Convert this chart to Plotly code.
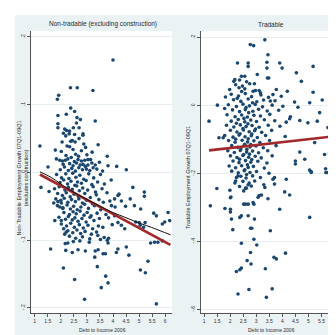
import plotly.graph_objects as go

# ---------------- data: Non-tradable panel (Debt to Income 2006, employment growth) ----------------
nt_points = [
    (4.00, 0.166), (2.37, 0.125), (2.63, 0.125), (3.23, 0.121), (1.92, 0.114), (1.87, 0.108), (2.38, 0.095),
    (2.53, 0.090), (1.89, 0.084), (2.21, 0.086), (2.62, 0.081), (2.75, 0.078), (3.32, 0.076), (1.89, 0.072),
    (1.89, 0.066), (2.60, 0.073), (2.15, 0.064), (2.22, 0.062), (2.33, 0.061), (2.32, 0.057), (2.85, 0.057),
    (2.85, 0.055), (2.53, 0.056), (2.19, 0.054), (2.38, 0.046), (2.44, 0.047), (2.24, 0.039), (2.34, 0.038),
    (2.88, 0.042), (3.43, 0.041), (1.20, 0.039), (1.79, 0.033), (2.02, 0.031), (2.47, 0.034), (2.57, 0.027),
    (2.79, 0.032), (2.95, 0.037), (3.78, 0.024), (1.83, 0.020), (1.96, 0.018), (2.06, 0.017), (2.17, 0.018),
    (2.27, 0.020), (2.66, 0.019), (2.79, 0.017), (2.92, 0.018), (3.04, 0.019), (3.14, 0.019), (2.34, 0.013),
    (2.47, 0.010), (2.60, 0.014), (2.85, 0.012), (3.04, 0.011), (3.32, 0.011), (2.98, 0.005), (3.24, 0.007),
    (3.81, 0.010), (4.14, 0.009), (4.51, 0.004), (1.51, 0.008),
    (1.98, 0.004), (2.14, 0.008), (2.29, 0.003), (2.42, 0.006), (2.56, 0.002), (2.69, 0.007), (2.83, 0.004),
    (2.94, 0.009), (3.11, 0.003), (3.38, 0.005), (3.60, 0.002), (2.09, 0.012), (2.52, 0.016), (2.74, 0.011),
    (3.19, 0.014), (3.48, 0.015), (2.20, 0.025), (2.40, 0.022), (2.68, 0.024), (3.00, 0.026), (3.20, 0.030),
    (2.55, 0.045), (2.70, 0.050), (2.05, 0.045), (2.10, 0.058), (2.48, 0.066), (2.70, 0.066),
    (1.24, -0.022), (1.55, -0.028), (1.73, -0.045), (1.89, -0.043), (2.02, -0.045), (1.96, -0.051), (2.08, -0.053),
    (1.77, -0.071), (2.02, -0.071), (1.61, -0.113), (2.11, -0.083), (2.15, -0.091), (2.21, -0.088), (2.17, -0.105),
    (2.27, -0.104), (2.19, -0.115), (2.44, -0.118), (2.66, -0.114), (2.94, -0.116), (2.10, -0.141), (2.53, -0.158),
    (2.91, -0.187), (3.40, -0.139), (3.55, -0.170), (3.72, -0.153), (3.81, -0.163), (3.30, -0.125), (3.32, -0.116),
    (3.43, -0.114), (3.62, -0.120), (3.71, -0.120), (3.78, -0.100), (3.81, -0.104), (3.83, -0.097), (4.13, -0.118),
    (4.19, -0.113), (4.51, -0.110), (4.61, -0.122), (5.05, -0.144), (5.24, -0.148), (5.34, -0.131), (5.66, -0.194),
    (5.44, -0.104), (5.59, -0.103), (5.72, -0.103), (5.89, -0.101), (5.89, -0.076), (5.98, -0.073), (6.17, -0.071),
    (6.11, -0.059), (5.66, -0.064), (5.56, -0.060), (5.17, -0.081), (5.04, -0.078), (5.00, -0.074), (5.23, -0.074),
    (4.87, -0.073), (5.20, -0.029), (5.20, -0.035), (4.76, -0.022), (4.66, -0.039), (4.82, -0.049), (4.48, -0.050),
    (5.06, -0.054), (4.32, -0.042), (4.19, -0.034), (4.06, -0.039), (3.94, -0.049), (4.06, -0.064), (4.19, -0.074),
    (4.32, -0.078), (4.45, -0.083),
    (1.84, -0.003), (2.03, -0.008), (2.19, -0.002), (2.31, -0.009), (2.46, -0.001), (2.58, -0.007), (2.73, -0.004),
    (2.88, -0.010), (3.07, -0.002), (3.26, -0.008), (3.52, -0.003),
    (1.97, -0.015), (2.11, -0.011), (2.26, -0.017), (2.39, -0.013), (2.54, -0.019), (2.64, -0.014), (2.79, -0.016),
    (2.97, -0.012), (3.19, -0.018), (3.41, -0.014), (3.67, -0.017), (3.93, -0.011),
    (1.76, -0.024), (1.94, -0.021), (2.16, -0.026), (2.29, -0.022), (2.44, -0.025), (2.61, -0.020), (2.71, -0.027),
    (2.84, -0.023), (3.03, -0.026), (3.24, -0.021), (3.33, -0.029), (3.58, -0.024),
    (1.88, -0.031), (2.06, -0.034), (2.21, -0.030), (2.36, -0.036), (2.51, -0.032), (2.67, -0.035), (2.92, -0.031),
    (3.13, -0.037), (3.36, -0.033), (3.77, -0.030), (4.23, -0.032),
    (1.81, -0.039), (2.00, -0.041), (2.13, -0.038), (2.27, -0.044), (2.41, -0.040), (2.56, -0.043), (2.69, -0.039),
    (2.83, -0.045), (2.99, -0.041), (3.21, -0.046), (3.46, -0.040), (3.63, -0.044), (3.88, -0.042),
    (1.87, -0.049), (2.08, -0.052), (2.24, -0.048), (2.37, -0.054), (2.49, -0.050), (2.63, -0.055), (2.77, -0.051),
    (2.91, -0.047), (3.06, -0.053), (3.29, -0.049), (3.53, -0.055), (4.08, -0.051),
    (2.12, -0.059), (2.33, -0.062), (2.47, -0.058), (2.59, -0.061), (2.74, -0.057), (2.89, -0.063), (3.01, -0.059),
    (3.16, -0.064), (3.39, -0.060), (3.73, -0.062),
    (1.93, -0.066), (2.18, -0.069), (2.29, -0.065), (2.44, -0.070), (2.54, -0.067), (2.66, -0.072), (2.81, -0.068),
    (2.97, -0.073), (3.12, -0.066), (3.27, -0.071), (3.48, -0.068), (3.83, -0.067),
    (2.02, -0.076), (2.22, -0.079), (2.38, -0.075), (2.52, -0.081), (2.71, -0.077), (2.86, -0.082), (3.04, -0.078),
    (3.22, -0.083), (3.44, -0.079), (3.61, -0.081), (3.97, -0.077),
    (2.27, -0.086), (2.46, -0.089), (2.62, -0.085), (2.76, -0.090), (2.93, -0.087), (3.17, -0.091), (3.37, -0.088),
    (2.33, -0.094), (2.57, -0.097), (2.83, -0.095), (3.11, -0.098), (3.42, -0.093), (3.66, -0.096),
    (2.48, -0.102), (2.73, -0.101), (3.09, -0.103), (3.52, -0.099),
]
nt_x = [p[0] for p in nt_points]
nt_y = [p[1] for p in nt_points]
nt_fit_x = [1.2, 6.2]
nt_fit_y = [-0.003, -0.107]
nt_lowess_x = [1.2, 1.62, 2.0, 2.4, 2.91, 3.42, 3.93, 4.45, 4.96, 5.47, 6.2]
nt_lowess_y = [0.001, -0.007, -0.017, -0.027, -0.038, -0.048, -0.058, -0.066, -0.074, -0.081, -0.092]

# ---------------- data: Tradable panel ----------------
tr_points = [
    (3.33, 0.193), (2.77, 0.179), (2.90, 0.176), (3.45, 0.149), (2.28, 0.125), (2.69, 0.125), (2.69, 0.115),
    (3.41, 0.127), (3.41, 0.110), (3.90, 0.125), (3.99, 0.110), (5.18, 0.115), (4.54, 0.096), (4.73, 0.071),
    (3.43, 0.081), (3.48, 0.081), (2.43, 0.086), (2.56, 0.086), (3.04, 0.091), (2.14, 0.071), (2.18, 0.076),
    (2.34, 0.052), (2.56, 0.049), (2.75, 0.064), (2.88, 0.042), (3.11, 0.044), (3.16, 0.037), (3.77, 0.047),
    (3.64, 0.032), (3.96, 0.027), (3.54, 0.013), (4.19, 0.042), (5.18, 0.039), (1.82, 0.025), (1.98, 0.047),
    (5.53, 0.016), (4.47, 0.010), (4.60, -0.005), (5.05, 0.008), (1.51, 0.001), (1.79, -0.009), (1.19, -0.046),
    (5.43, -0.021), (5.75, -0.065), (4.98, -0.051), (5.34, -0.046), (6.13, -0.012), (4.67, -0.044), (4.28, -0.039),
    (4.15, -0.049), (5.92, -0.083), (6.07, -0.087), (5.24, -0.109), (5.62, -0.144), (5.81, -0.141), (5.05, -0.190),
    (5.11, -0.195), (5.66, -0.186), (5.71, -0.197), (4.67, -0.137), (4.86, -0.158), (4.50, -0.163), (4.50, -0.172),
    (1.57, -0.095), (1.73, -0.095),
    (1.24, -0.295), (1.49, -0.244), (1.80, -0.303), (1.99, -0.249), (2.01, -0.271), (2.03, -0.269), (2.01, -0.305),
    (2.01, -0.313), (2.05, -0.334), (2.10, -0.365), (2.43, -0.405), (2.24, -0.488), (2.37, -0.483), (2.43, -0.478),
    (2.30, -0.554), (2.72, -0.541), (2.78, -0.432), (2.80, -0.466), (2.78, -0.361), (2.83, -0.361), (2.65, -0.456),
    (2.91, -0.393), (3.02, -0.410), (2.69, -0.324), (2.93, -0.334), (2.37, -0.329), (2.43, -0.324), (2.52, -0.290),
    (2.59, -0.290), (2.69, -0.290), (2.88, -0.285), (2.91, -0.290), (3.07, -0.270), (3.11, -0.265), (3.20, -0.263),
    (3.45, -0.274), (3.54, -0.368), (3.68, -0.446), (3.77, -0.451), (3.35, -0.480), (3.61, -0.539), (3.39, -0.564),
    (3.90, -0.305), (4.12, -0.434), (4.09, -0.254), (4.28, -0.263), (4.15, -0.217), (5.05, -0.329), (3.64, -0.217),
    (3.70, -0.231), (3.70, -0.212), (3.33, -0.241), (3.29, -0.233), (2.52, -0.251), (2.62, -0.243), (2.69, -0.233),
    (2.24, -0.212), (2.30, -0.207), (2.21, -0.222), (2.18, -0.228), (5.11, -0.197), (5.67, -0.197),
    (2.21, 0.061), (2.47, 0.057), (2.93, 0.064), (2.63, 0.070), (2.36, 0.075),
    (2.04, 0.033), (2.32, 0.028), (2.58, 0.035), (2.82, 0.026), (3.18, 0.031), (3.47, 0.024), (2.44, 0.041),
    (2.97, 0.044), (2.13, 0.017), (2.41, 0.012), (2.69, 0.019), (3.02, 0.011), (3.28, 0.016), (3.72, 0.014),
    (2.27, 0.021), (2.86, 0.008), (1.93, 0.002), (2.24, -0.003), (2.49, 0.004), (2.74, -0.001), (2.96, 0.003),
    (3.24, -0.004), (3.61, 0.001), (4.02, -0.002), (2.61, -0.006), (2.09, -0.013), (2.36, -0.018), (2.58, -0.012),
    (2.87, -0.017), (3.09, -0.011), (3.42, -0.016), (3.86, -0.014), (2.71, -0.021), (1.88, -0.027), (2.19, -0.033),
    (2.44, -0.028), (2.66, -0.034), (2.91, -0.029), (3.16, -0.031), (3.52, -0.026), (4.31, -0.033), (2.53, -0.038),
    (2.04, -0.046), (2.31, -0.041), (2.56, -0.048), (2.79, -0.043), (3.01, -0.047), (3.31, -0.042), (3.71, -0.045),
    (2.24, -0.052), (2.68, -0.054), (1.86, -0.058), (2.14, -0.063), (2.39, -0.057), (2.61, -0.062), (2.84, -0.059),
    (3.11, -0.064), (3.46, -0.058), (3.91, -0.061), (2.49, -0.068), (2.97, -0.069), (2.01, -0.073), (2.26, -0.078),
    (2.51, -0.072), (2.73, -0.077), (2.94, -0.074), (3.21, -0.079), (3.59, -0.073), (2.38, -0.083), (2.83, -0.084),
    (1.79, -0.088), (2.11, -0.093), (2.34, -0.087), (2.57, -0.092), (2.81, -0.089), (3.04, -0.094), (3.36, -0.088),
    (4.11, -0.091), (2.69, -0.098), (2.21, -0.099), (1.94, -0.103), (2.19, -0.108), (2.46, -0.102), (2.67, -0.107),
    (2.91, -0.104), (3.14, -0.109), (3.51, -0.103), (2.56, -0.114), (2.79, -0.115), (2.06, -0.118), (2.29, -0.123),
    (2.54, -0.117), (2.76, -0.122), (2.99, -0.119), (3.27, -0.124), (3.76, -0.118), (2.41, -0.128), (2.64, -0.129),
    (1.91, -0.133), (2.16, -0.138), (2.39, -0.132), (2.63, -0.137), (2.86, -0.134), (3.09, -0.139), (3.44, -0.133),
    (2.52, -0.144), (2.74, -0.143), (2.01, -0.148), (2.26, -0.153), (2.49, -0.147), (2.71, -0.152), (2.96, -0.149),
    (3.19, -0.154), (3.61, -0.148), (2.36, -0.158), (2.83, -0.159), (2.11, -0.163), (2.34, -0.168), (2.59, -0.162),
    (2.79, -0.167), (3.06, -0.164), (3.41, -0.169), (2.66, -0.174), (1.96, -0.178), (2.21, -0.183), (2.44, -0.177),
    (2.69, -0.182), (2.89, -0.179), (3.31, -0.184), (2.56, -0.189), (2.06, -0.193), (2.31, -0.198), (2.54, -0.192),
    (2.76, -0.197), (3.01, -0.194), (3.49, -0.199), (2.63, -0.203), (2.41, -0.208), (2.61, -0.213), (2.86, -0.207),
    (3.16, -0.212), (2.49, -0.223), (2.73, -0.228), (2.94, -0.222), (2.36, -0.238), (2.59, -0.243), (2.81, -0.237),
]
tr_x = [p[0] for p in tr_points]
tr_y = [p[1] for p in tr_points]
tr_fit_x = [1.19, 6.17]
tr_fit_y = [-0.132, -0.089]

x_ticks = [1, 1.5, 2, 2.5, 3, 3.5, 4, 4.5, 5, 5.5, 6]
x_ticktext = ["1", "1.5", "2", "2.5", "3", "3.5", "4", "4.5", "5", "5.5", "6"]
nt_yticks = [-0.2, -0.1, 0, 0.1, 0.2]
nt_yticktext = ["-.2", "-.1", "0", ".1", ".2"]
tr_yticks = [-0.6, -0.4, -0.2, 0, 0.2]
tr_yticktext = ["-.6", "-.4", "-.2", "0", ".2"]

# ---------------- figure ----------------
W, H = 336, 335
BG = "#eaf2f3"
NAVY = "#1a476f"
RED = "#a3282b"
FONT = "Liberation Sans Narrow, Liberation Sans, Arial"
TXT = "#2a2a2a"

fig = go.Figure()
fig.add_trace(go.Scatter(x=nt_x, y=nt_y, mode="markers", xaxis="x", yaxis="y",
                         marker=dict(color=NAVY, size=3.6), showlegend=False))
fig.add_trace(go.Scatter(x=nt_fit_x, y=nt_fit_y, mode="lines", xaxis="x", yaxis="y",
                         line=dict(color=RED, width=2.6), showlegend=False))
fig.add_trace(go.Scatter(x=nt_lowess_x, y=nt_lowess_y, mode="lines", xaxis="x", yaxis="y",
                         line=dict(color="#111111", width=1, shape="spline"), showlegend=False))
fig.add_trace(go.Scatter(x=tr_x, y=tr_y, mode="markers", xaxis="x2", yaxis="y2",
                         marker=dict(color=NAVY, size=3.6), showlegend=False))
fig.add_trace(go.Scatter(x=tr_fit_x, y=tr_fit_y, mode="lines", xaxis="x2", yaxis="y2",
                         line=dict(color=RED, width=2.6), showlegend=False))

ydom = [1 - 305 / H, 1 - 23 / H]
axis_common = dict(showline=True, linecolor="#555555", linewidth=1, ticks="outside",
                   ticklen=3, tickcolor="#555555", tickfont=dict(size=5, color="#333333", family=FONT),
                   zeroline=False)
fig.update_layout(
    width=W, height=H,
    margin=dict(l=0, r=0, t=0, b=0),
    paper_bgcolor=BG, plot_bgcolor="white",
    font=dict(family=FONT, color="#333333"),
    xaxis=dict(domain=[23.3 / W, 164 / W], range=[0.87, 6.26], tickvals=x_ticks, ticktext=x_ticktext,
               showgrid=False, anchor="y", **axis_common),
    yaxis=dict(domain=ydom, range=[-0.2074, 0.2088], tickvals=nt_yticks, ticktext=nt_yticktext,
               tickangle=-90, showgrid=True, gridcolor="#e6eef0", gridwidth=1, anchor="x", **axis_common),
    xaxis2=dict(domain=[192.7 / W, 333 / W], range=[0.87, 6.25], tickvals=x_ticks, ticktext=x_ticktext,
                showgrid=False, anchor="y2", **axis_common),
    yaxis2=dict(domain=ydom, range=[-0.610, 0.219], tickvals=tr_yticks, ticktext=tr_yticktext,
                tickangle=-90, showgrid=True, gridcolor="#e6eef0", gridwidth=1, anchor="x2", **axis_common),
    shapes=[
        dict(type="rect", xref="paper", yref="paper", x0=0, x1=7 / W, y0=0, y1=1,
             fillcolor="white", line=dict(width=0), layer="below"),
        dict(type="rect", xref="paper", yref="paper", x0=0, x1=1, y0=1 - 7 / H, y1=1,
             fillcolor="white", line=dict(width=0), layer="below"),
    ],
    annotations=[
        dict(text="Non-tradable (excluding construction)", x=95 / W, y=1 - 16 / H, xref="paper", yref="paper",
             showarrow=False, font=dict(size=6.5, color=TXT, family=FONT), xanchor="center", yanchor="middle"),
        dict(text="Tradable", x=263 / W, y=1 - 16 / H, xref="paper", yref="paper",
             showarrow=False, font=dict(size=6.5, color=TXT, family=FONT), xanchor="center", yanchor="middle"),
        dict(text="Debt to Income 2006", x=94 / W, y=1 - 322 / H, xref="paper", yref="paper",
             showarrow=False, font=dict(size=5, color=TXT, family=FONT), xanchor="center", yanchor="middle"),
        dict(text="Debt to Income 2006", x=263 / W, y=1 - 322 / H, xref="paper", yref="paper",
             showarrow=False, font=dict(size=5, color=TXT, family=FONT), xanchor="center", yanchor="middle"),
        dict(text="Non-Tradable Employment Growth 07Q1-09Q1<br>(excludes construction)", x=13.5 / W, y=1 - 170 / H,
             xref="paper", yref="paper", textangle=-90, showarrow=False,
             font=dict(size=5.5, color=TXT, family=FONT), xanchor="center", yanchor="middle"),
        dict(text="Tradable Employment Growth 07Q1-09Q1", x=180 / W, y=1 - 170 / H,
             xref="paper", yref="paper", textangle=-90, showarrow=False,
             font=dict(size=5.5, color=TXT, family=FONT), xanchor="center", yanchor="middle"),
    ],
)

fig.write_html("out.html")
